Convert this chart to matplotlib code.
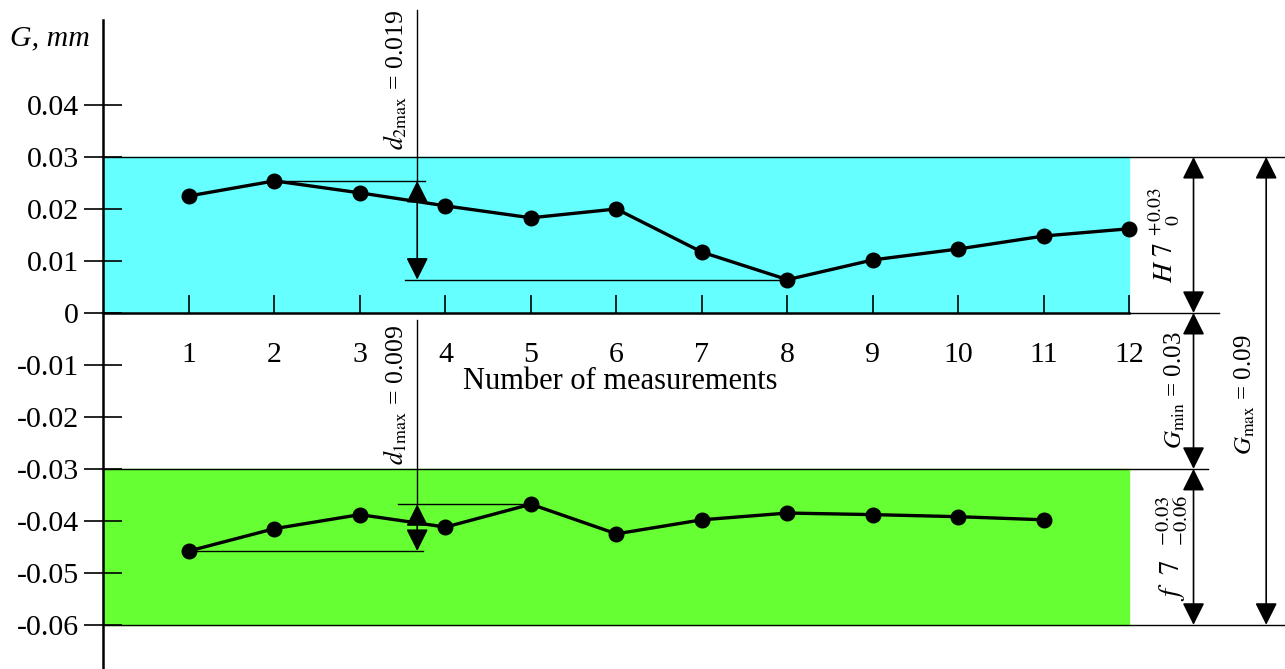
import numpy as np
import matplotlib.pyplot as plt

plt.rcParams['font.family'] = ['Liberation Serif', 'DejaVu Serif']
plt.rcParams['mathtext.fontset'] = 'stix'

# measurement numbers and measured clearances (mm)
meas = [1, 2, 3, 4, 5, 6, 7, 8, 9, 10, 11, 12]
hole = [0.0225, 0.0254, 0.0231, 0.0206, 0.0183, 0.0200, 0.0117, 0.0064, 0.0102, 0.0123, 0.0148, 0.0162]
meas_shaft = [1, 2, 3, 4, 5, 6, 7, 8, 9, 10, 11]
shaft = [-0.0458, -0.0415, -0.0388, -0.0412, -0.0368, -0.0425, -0.0398, -0.0385, -0.0388, -0.0392, -0.0398]

yticks = [0.04, 0.03, 0.02, 0.01, 0, -0.01, -0.02, -0.03, -0.04, -0.05, -0.06]
ytick_labels = ['0.04', '0.03', '0.02', '0.01', '0', '-0.01', '-0.02', '-0.03', '-0.04', '-0.05', '-0.06']

H7 = (0.0, 0.03)
f7 = (-0.06, -0.03)

fig = plt.figure(figsize=(12.85, 6.69), dpi=100)
ax = fig.add_axes([0, 0, 1, 1])
ax.set_xlim(-1.21, 13.82)
ax.set_ylim(-0.0685, 0.0602)

# tolerance zones
ax.fill_between([0, 12], H7[0], H7[1], color='#66ffff', zorder=0)
ax.fill_between([0, 12], f7[0], f7[1], color='#66ff33', zorder=0)
ax.plot([0, 13.82], [H7[1], H7[1]], color='black', lw=1)
ax.plot([0, 13.82], [f7[0], f7[0]], color='black', lw=1)
ax.plot([0, 12.92], [f7[1], f7[1]], color='black', lw=1)
ax.plot([12, 13.05], [0, 0], color='black', lw=1)

# axes
for s in ['top', 'right']:
    ax.spines[s].set_visible(False)
ax.spines['left'].set_position(('data', 0))
ax.spines['left'].set_bounds(-0.0685, 0.0563)
ax.spines['bottom'].set_position(('data', 0))
ax.spines['bottom'].set_bounds(0, 12)
ax.spines['left'].set_linewidth(1.8)
ax.spines['bottom'].set_linewidth(1.8)
ax.set_yticks(yticks)
ax.set_yticklabels(ytick_labels)
ax.set_xticks(meas)
ax.tick_params(axis='y', direction='inout', length=27, width=1.2, labelsize=21.5, pad=4)
ax.tick_params(axis='x', direction='in', length=13, width=1.2, labelsize=21.5, pad=21)

ax.text(-0.63, 0.0529, 'G, mm', fontsize=21.5, style='italic', ha='center', va='center')
ax.text(6.04, -0.0131, 'Number of measurements', fontsize=22, ha='center', va='center')

# measured series
ax.plot(meas, hole, color='black', lw=2.4, marker='o', ms=10.5, zorder=3)
ax.plot(meas_shaft, shaft, color='black', lw=2.4, marker='o', ms=10.5, zorder=3)

arrow = dict(arrowstyle='<|-|>', color='black', lw=1.2, mutation_scale=34, shrinkA=0, shrinkB=0)
xd = 3.67

# d2max: spread of the hole series
ax.plot([2, 3.76], [max(hole), max(hole)], color='black', lw=1)
ax.plot([3.53, 8], [min(hole), min(hole)], color='black', lw=1)
ax.plot([xd, xd], [max(hole), 0.0583], color='black', lw=1)
ax.annotate('', xy=(xd, max(hole)), xytext=(xd, min(hole)), arrowprops=arrow)
ax.text(3.41, 0.0448, r'$d_{2\mathrm{max}}$ = 0.019', fontsize=18.5, rotation=90, ha='center', va='center')

# d1max: spread of the shaft series
ax.plot([3.44, 5], [max(shaft), max(shaft)], color='black', lw=1)
ax.plot([1, 3.74], [min(shaft), min(shaft)], color='black', lw=1)
ax.plot([xd, xd], [max(shaft), -0.0013], color='black', lw=1)
ax.annotate('', xy=(xd, max(shaft)), xytext=(xd, min(shaft)), arrowprops=arrow)
ax.text(3.41, -0.0158, r'$d_{1\mathrm{max}}$ = 0.009', fontsize=18.5, rotation=90, ha='center', va='center')

# fit dimensions on the right
xr = 12.75
ax.annotate('', xy=(xr, H7[1]), xytext=(xr, H7[0]), arrowprops=arrow)
ax.annotate('', xy=(xr, H7[0]), xytext=(xr, f7[1]), arrowprops=arrow)
ax.annotate('', xy=(xr, f7[1]), xytext=(xr, f7[0]), arrowprops=arrow)
ax.annotate('', xy=(13.6, H7[1]), xytext=(13.6, f7[0]), arrowprops=arrow)
ax.text(12.41, 0.015, r'$H\ 7\ ^{+0.03}_{\ \ 0}$', fontsize=20, rotation=90, ha='center', va='center')
ax.text(12.53, -0.0148, r'$G_{\mathrm{min}}$ = 0.03', fontsize=18, rotation=90, ha='center', va='center')
ax.text(12.5, -0.0452, r'$f\ \ 7\ \ ^{-0.03}_{-0.06}$', fontsize=21, rotation=90, ha='center', va='center')
ax.text(13.35, -0.0158, r'$G_{\mathrm{max}}$ = 0.09', fontsize=18, rotation=90, ha='center', va='center')

fig.savefig('out.png', dpi=100)
